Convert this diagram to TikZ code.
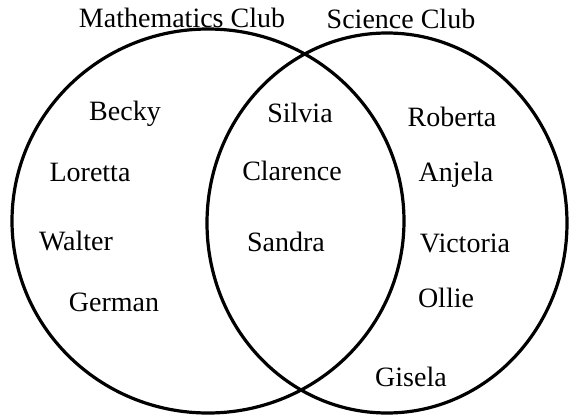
\documentclass[tikz,border=0pt]{standalone}
\usepackage{fontspec}
\setmainfont{Liberation Serif}
\usetikzlibrary{shapes.geometric, positioning}

\tikzset{
  clubset/.style={draw, ellipse, line width=3.2pt, inner sep=0pt},
  member/.style={font=\fontsize{28}{32}\selectfont, inner sep=0pt},
  clubname/.style={font=\fontsize{28}{32}\selectfont, inner sep=0pt}
}

\begin{document}
\begin{tikzpicture}[x=1pt, y=-1pt]
  \useasboundingbox (0,0) rectangle (571,416);

  % the two clubs
  \node[clubset, minimum width=392pt, minimum height=384pt] (mathset) at (208,221) {};
  \node[clubset, minimum width=360pt, minimum height=380pt] (sciset) at (387,223) {};

  \node[clubname] (mathname) at (182,18) {Mathematics Club};
  \node[clubname] (sciname) at (401,19) {Science Club};

  % mathematics only
  \node[member] (becky) at (125,114) {Becky};
  \node[member] (loretta) at (90,172) {Loretta};
  \node[member] (walter) at (76,241) {Walter};
  \node[member] (german) at (114,302) {German};

  % both clubs
  \node[member] (silvia) at (300,113) {Silvia};
  \node[member] (clarence) at (292,171) {Clarence};
  \node[member] (sandra) at (286,242) {Sandra};

  % science only
  \node[member] (roberta) at (452,117) {Roberta};
  \node[member] (anjela) at (456,175) {Anjela};
  \node[member] (victoria) at (465,243) {Victoria};
  \node[member] (ollie) at (446,298) {Ollie};
  \node[member] (gisela) at (411,377) {Gisela};
\end{tikzpicture}
\end{document}
